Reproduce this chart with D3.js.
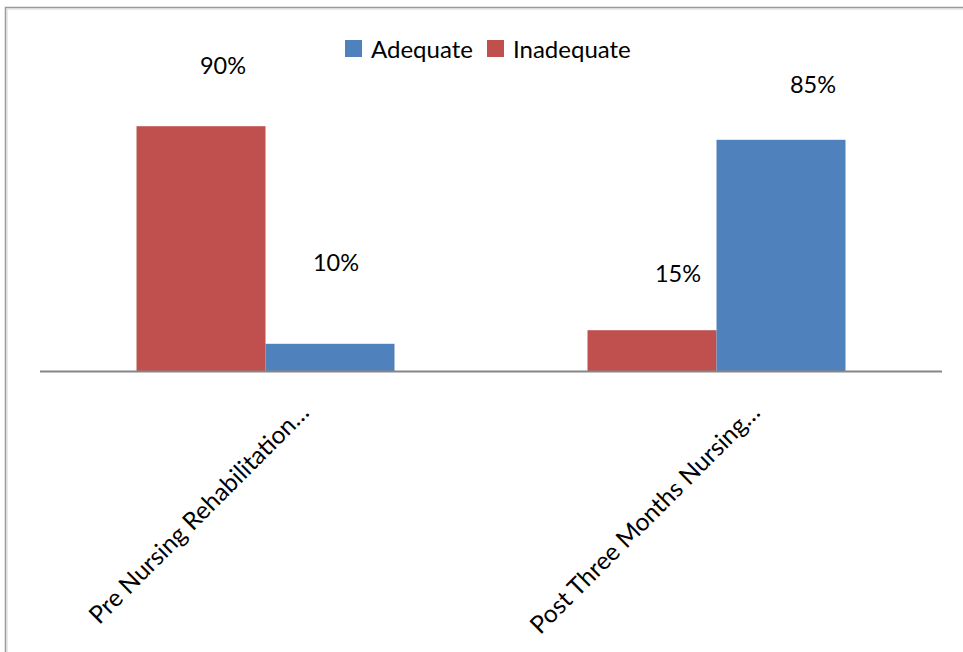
<!DOCTYPE html>
<html>
<head>
<meta charset="utf-8">
<script src="https://cdn.jsdelivr.net/npm/d3@7/dist/d3.min.js"></script>
<style>
  html, body { margin: 0; padding: 0; background: #fff; }
  svg { display: block; }
  text { font-family: Lato, "Open Sans", sans-serif; fill: #000; }
</style>
</head>
<body>
<svg id="chart" width="963" height="652"></svg>
<script>
// ---- data ----
const categories = ["Pre Nursing Rehabilitation…", "Post Three Months Nursing…"];
const seriesNames = ["Adequate", "Inadequate"];
const adequate = [10, 85];
const inadequate = [90, 15];
const barOrder = ["Inadequate", "Adequate"];
const colors = { Adequate: "#4F81BD", Inadequate: "#C0504D" };
// label offsets (layout only): [dx, dy] from bar top-centre
const labelOffsets = {
  Adequate: [[6, -73], [32, -47]],
  Inadequate: [[22, -52], [26, -48]]
};

const values = { Adequate: adequate, Inadequate: inadequate };

const svg = d3.select("#chart");

// chart border
svg.append("rect").attr("x", 5.5).attr("y", 7.5).attr("width", 1000).attr("height", 700)
  .attr("fill", "none").attr("stroke", "#9a9a9a").attr("stroke-width", 1.5);
svg.append("rect").attr("x", 7).attr("y", 9).attr("width", 1000).attr("height", 700)
  .attr("fill", "none").attr("stroke", "#d4d4d4").attr("stroke-width", 1);

const left = 40, right = 942, baseY = 371, topY = 99;

const x0 = d3.scaleBand().domain(categories).range([left, right])
  .paddingInner(0.428).paddingOuter(0.214);
const x1 = d3.scaleBand().domain(barOrder).range([0, x0.bandwidth()]);
const y = d3.scaleLinear().domain([0, 100]).range([baseY, topY]);

const rows = [];
categories.forEach((c, i) => {
  barOrder.forEach(s => rows.push({ cat: c, i, s, v: values[s][i] }));
});

svg.append("g").selectAll("rect").data(rows).join("rect")
  .attr("x", d => x0(d.cat) + x1(d.s))
  .attr("y", d => y(d.v))
  .attr("width", x1.bandwidth())
  .attr("height", d => y(0) - y(d.v))
  .attr("fill", d => colors[d.s]);

// data labels
svg.append("g").selectAll("text").data(rows).join("text")
  .attr("x", d => x0(d.cat) + x1(d.s) + x1.bandwidth() / 2 + labelOffsets[d.s][d.i][0])
  .attr("y", d => y(d.v) + labelOffsets[d.s][d.i][1])
  .attr("text-anchor", "middle")
  .attr("font-size", 23.5)
  .text(d => d.v + "%");

// x axis
const xAxis = d3.axisBottom(x0).tickSize(0).tickSizeOuter(0).tickFormat("");
const axG = svg.append("g").attr("transform", `translate(0,${baseY})`).call(xAxis);
axG.select(".domain").attr("stroke", "#868686").attr("stroke-width", 2)
  .attr("d", `M${left},0.5H${right}`);

// category labels rotated
svg.append("g").selectAll("text").data(categories).join("text")
  .attr("transform", c => `translate(${x0(c) + x0.bandwidth() / 2 + 45},414) rotate(-45)`)
  .attr("text-anchor", "end")
  .attr("font-size", 24.5)
  .text(c => c);

// legend
const legend = svg.append("g");
const legItems = [
  { name: "Adequate", x: 345 },
  { name: "Inadequate", x: 487 }
];
const lg = legend.selectAll("g").data(legItems).join("g")
  .attr("transform", d => `translate(${d.x},40)`);
lg.append("rect").attr("width", 17).attr("height", 17).attr("fill", d => colors[d.name]);
lg.append("text").attr("x", 26).attr("y", 17.5).attr("font-size", 24).text(d => d.name);
</script>
</body>
</html>
